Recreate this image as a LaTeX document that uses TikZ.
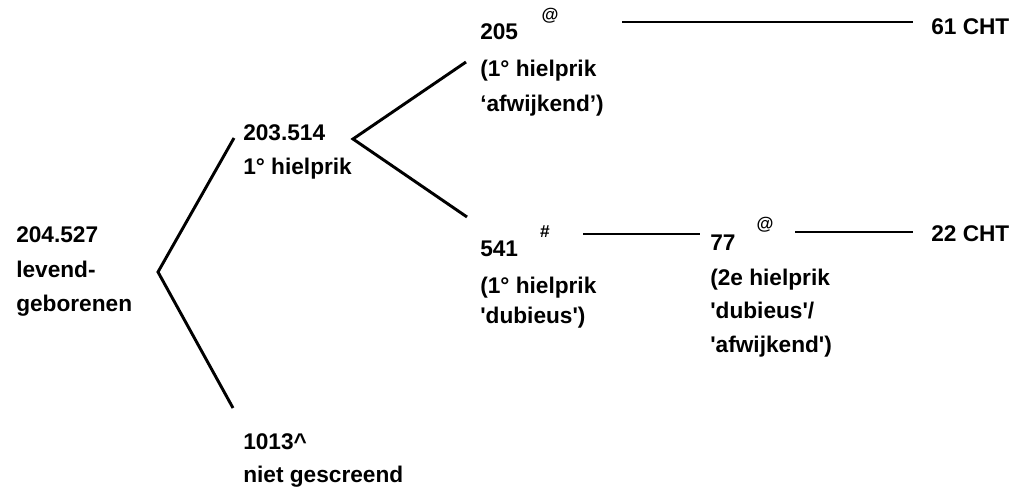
\documentclass[tikz,border=0pt]{standalone}
\usepackage{fontspec}
\setmainfont{Liberation Sans}
\begin{document}
\begin{tikzpicture}[x=0.75pt,y=-0.75pt,
  txt/.style={anchor=base west,inner sep=0pt,font=\fontsize{17}{20}\selectfont\bfseries},
  supmark/.style={anchor=center,inner sep=0pt,font=\fontsize{13}{14}\selectfont\bfseries},
  conn/.style={line width=2.2pt}]
\useasboundingbox (0,0) rectangle (1028,495);
% texts
\node[txt] (a1) at (16,243) {204.527};
\node[txt] (a2) at (16,277) {levend-};
\node[txt] (a3) at (16,311) {geborenen};
\node[txt] (b1) at (243,141) {203.514};
\node[txt] (b2) at (243,175) {1° hielprik};
\node[txt] (c1) at (243,449) {1013\textasciicircum};
\node[txt] (c2) at (243,482) {niet gescreend};
\node[txt] (d1) at (480,40) {205};
\node[supmark] (d1s) at (550,16) {@};
\node[txt] (d2) at (480,77) {(1° hielprik};
\node[txt] (d3) at (480,112) {‘afwijkend’)};
\node[txt] (e1) at (480,257) {541};
\node[supmark] (e1s) at (545,232) {\#};
\node[txt] (e2) at (480,294) {(1° hielprik};
\node[txt] (e3) at (480,324) {\textquotesingle dubieus\textquotesingle)};
\node[txt] (f1) at (710,251) {77};
\node[supmark] (f1s) at (765,225) {@};
\node[txt] (f2) at (710,286) {(2e hielprik};
\node[txt] (f3) at (710,319) {\textquotesingle dubieus\textquotesingle/};
\node[txt] (f4) at (710,352) {\textquotesingle afwijkend\textquotesingle)};
\node[txt] (g) at (931,35) {61 CHT};
\node[txt] (h) at (931,242) {22 CHT};
% connectors
\coordinate (pA) at (158,272);
\coordinate (pAu) at (234,138);
\coordinate (pAd) at (233,408);
\coordinate (pB) at (353,139);
\coordinate (pBu) at (466,62);
\coordinate (pBd) at (467,217);
\coordinate (q1a) at (622,22);
\coordinate (q1b) at (913,22);
\coordinate (q2a) at (583,234);
\coordinate (q2b) at (700,234);
\coordinate (q3a) at (795,232);
\coordinate (q3b) at (913,232);
\draw[conn] (pAu) -- (pA) -- (pAd);
\draw[conn] (pBu) -- (pB) -- (pBd);
\draw[conn] (q1a) -- (q1b);
\draw[conn] (q2a) -- (q2b);
\draw[conn] (q3a) -- (q3b);
\end{tikzpicture}
\end{document}
